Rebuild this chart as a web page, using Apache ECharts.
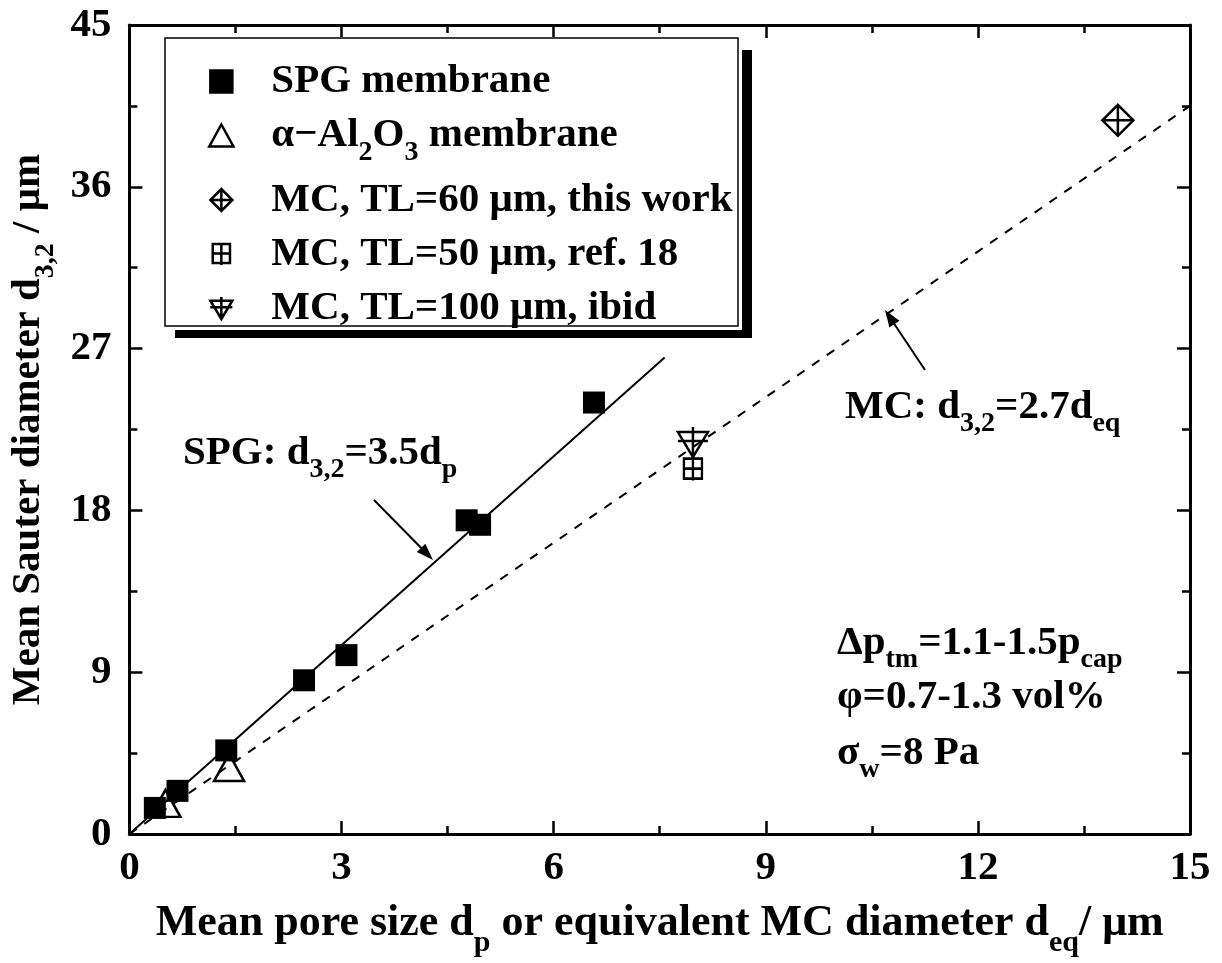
<!DOCTYPE html>
<html><head><meta charset="utf-8">
<script src="https://cdn.jsdelivr.net/npm/echarts@6/dist/echarts.min.js"></script>
<style>html,body{margin:0;padding:0;background:#fff}#c{width:1222px;height:963px}</style>
</head><body><div id="c"></div>
<script>
// ---- data ----
const spgX = [0.36, 0.68, 1.37, 2.47, 3.07, 4.77, 4.96, 6.57];
const spgY = [1.45, 2.4, 4.65, 8.55, 9.95, 17.45, 17.2, 24.0];
const alX = [0.51, 1.41];
const alY = [1.7, 3.7];
const mc60X = [13.98];
const mc60Y = [39.7];
const mc50X = [7.97];
const mc50Y = [20.3];
const mc100X = [7.97];
const mc100Y = [21.8];
const spgFitX = [0, 7.57];
const spgFitY = [0, 26.5];
const mcFitX = [0, 15];
const mcFitY = [0, 40.5];
const xTicks = [0, 3, 6, 9, 12, 15];
const yTicks = [0, 9, 18, 27, 36, 45];
const seriesNames = ['SPG membrane', 'Al2O3 membrane', 'MC60', 'MC50', 'MC100'];
const legendLabels = {
  'SPG membrane': '{n|SPG membrane}',
  'Al2O3 membrane': '{n|\u03b1\u2212Al}{s|2}{n|O}{s|3}{n| membrane}',
  'MC60': '{n|MC, TL=60 \u03bcm, this work}',
  'MC50': '{n|MC, TL=50 \u03bcm, ref. 18}',
  'MC100': '{n|MC, TL=100 \u03bcm, ibid}'
};

const FONT = 'Liberation Serif';
const R = {
  n: {fontFamily: FONT, fontWeight: 'bold', fontSize: 41, color: '#000', lineHeight: 44},
  s: {fontFamily: FONT, fontWeight: 'bold', fontSize: 28, color: '#000', lineHeight: 10, height: 10, verticalAlign: 'bottom'}
};
const RX = {
  n: {fontFamily: FONT, fontWeight: 'bold', fontSize: 44, color: '#000', lineHeight: 48},
  s: {fontFamily: FONT, fontWeight: 'bold', fontSize: 30, color: '#000', lineHeight: 10, height: 10, verticalAlign: 'bottom'}
};

const zip = (a, b) => a.map((v, i) => [v, b[i]]);

const P_SQUARE = 'path://M0,0L20,0L20,20L0,20Z';
const P_TRI = 'path://M11,0L22,20L0,20Z';
const P_DIAMOND = 'path://M10,0L20,10L10,20L0,10Z M0,10L20,10 M10,0L10,20';
const P_SQPLUS = 'path://M1,1L19,1L19,21L1,21Z M0,11L20,11 M10,0L10,23';
const P_TRIDOWN = 'path://M0,5L30,5L15,30Z M0,14L30,14 M15,0L15,30';
const legendIcons = [P_SQUARE, P_TRI, P_DIAMOND, P_SQPLUS, P_TRIDOWN];

const openStyle = {color: 'transparent', borderColor: '#000', borderWidth: 2.5, opacity: 1};

const chart = echarts.init(document.getElementById('c'), null, {renderer: 'canvas'});

const axisCommon = (pos, isX) => ({
  type: 'value',
  position: pos,
  min: 0,
  max: isX ? 15 : 45,
  interval: isX ? 3 : 9,
  axisLine: {show: true, onZero: false, lineStyle: {color: '#000', width: 3}},
  axisTick: {show: true, inside: true, length: 13, lineStyle: {color: '#000', width: 2.5}},
  minorTick: {show: true, splitNumber: 2, length: 8, lineStyle: {color: '#000', width: 2.5}},
  splitLine: {show: false},
  axisLabel: {show: false}
});

function arrow(tail, tip) {
  const dx = tip[0] - tail[0], dy = tip[1] - tail[1];
  const L = Math.hypot(dx, dy), ux = dx / L, uy = dy / L;
  const hl = 17, hw = 6;
  const bx = tip[0] - ux * hl, by = tip[1] - uy * hl;
  return [
    {type: 'line', z: 10, shape: {x1: tail[0], y1: tail[1], x2: bx + ux * 2, y2: by + uy * 2}, style: {stroke: '#000', lineWidth: 2}},
    {type: 'polygon', z: 10, shape: {points: [[tip[0], tip[1]], [bx - uy * hw, by + ux * hw], [bx + uy * hw, by - ux * hw]]}, style: {fill: '#000'}}
  ];
}

const xAx0 = Object.assign(axisCommon('bottom', true), {
  axisLabel: {show: true, margin: 14, fontFamily: FONT, fontWeight: 'bold', fontSize: 41, color: '#000'},
  name: '{n|Mean pore size d}{s|p}{n| or equivalent MC diameter d}{s|eq}{n|/ \u03bcm}',
  nameLocation: 'middle', nameGap: 66,
  nameTextStyle: {rich: RX}
});
const yAx0 = Object.assign(axisCommon('left', false), {
  axisLabel: {show: true, margin: 18, fontFamily: FONT, fontWeight: 'bold', fontSize: 41, color: '#000'},
  name: '{n|Mean Sauter diameter d}{s|3,2}{n| / \u03bcm}',
  nameLocation: 'middle', nameGap: 76, nameRotate: 90,
  nameTextStyle: {rich: R}
});

const option = {
  animation: false,
  backgroundColor: '#fff',
  grid: {left: 127, right: 32, top: 25, bottom: 127, containLabel: false},
  xAxis: [xAx0, axisCommon('top', true)],
  yAxis: [yAx0, axisCommon('right', false)],
  legend: {
    orient: 'vertical', left: 203, top: 56, z: 20,
    itemWidth: 90, itemHeight: 22, itemGap: 13,
    selectedMode: false,
    data: seriesNames.map((n, i) => ({name: n, icon: legendIcons[i]})),
    formatter: name => legendLabels[name],
    itemStyle: {borderWidth: 2.5, borderColor: '#000', opacity: 1},
    textStyle: {rich: R}
  },
  series: [
    {type: 'line', name: 'SPG fit', data: zip(spgFitX, spgFitY), showSymbol: false, symbol: 'none', z: 1,
      lineStyle: {color: '#000', width: 2}, silent: true},
    {type: 'line', name: 'MC fit', data: zip(mcFitX, mcFitY), showSymbol: false, symbol: 'none', z: 1,
      lineStyle: {color: '#000', width: 2, type: [9, 9]}, silent: true},
    {type: 'scatter', name: 'SPG membrane', data: zip(spgX, spgY), symbol: 'rect', symbolSize: 22, z: 3,
      itemStyle: {color: '#000', borderColor: '#000', borderWidth: 0, opacity: 1}},
    {type: 'scatter', name: 'Al2O3 membrane', data: zip(alX, alY), symbol: 'triangle', symbolSize: [30, 27], z: 3,
      itemStyle: openStyle},
    {type: 'scatter', name: 'MC60', data: zip(mc60X, mc60Y), symbol: P_DIAMOND, symbolSize: 31, z: 3,
      itemStyle: openStyle},
    {type: 'scatter', name: 'MC50', data: zip(mc50X, mc50Y), symbol: P_SQPLUS, symbolSize: [20, 23], z: 3,
      itemStyle: openStyle},
    {type: 'scatter', name: 'MC100', data: zip(mc100X, mc100Y), symbol: P_TRIDOWN, symbolSize: [30, 30], z: 3,
      itemStyle: openStyle}
  ],
  graphic: [
    {type: 'rect', z: 15, shape: {x: 175, y: 50, width: 577, height: 288}, style: {fill: '#000'}},
    {type: 'rect', z: 16, shape: {x: 163, y: 37, width: 579, height: 293}, style: {fill: '#fff'}},
    {type: 'rect', z: 17, shape: {x: 165, y: 38, width: 573, height: 288}, style: {fill: '#fff', stroke: '#000', lineWidth: 1.5}},
    {type: 'text', z: 10, x: 183, y: 431, style: {text: '{n|SPG: d}{s|3,2}{n|=3.5d}{s|p}', rich: R, verticalAlign: 'top'}},
    {type: 'text', z: 10, x: 845, y: 385, style: {text: '{n|MC: d}{s|3,2}{n|=2.7d}{s|eq}', rich: R, verticalAlign: 'top'}},
    {type: 'text', z: 10, x: 837, y: 621, style: {text: '{n|\u0394p}{s|tm}{n|=1.1-1.5p}{s|cap}', rich: R, verticalAlign: 'top'}},
    {type: 'text', z: 10, x: 837, y: 675, style: {text: '{n|\u03c6=0.7-1.3 vol%}', rich: R, verticalAlign: 'top'}},
    {type: 'text', z: 10, x: 837, y: 731, style: {text: '{n|\u03c3}{s|w}{n|=8 Pa}', rich: R, verticalAlign: 'top'}}
  ].concat(arrow([374, 500], [433, 560])).concat(arrow([925, 370], [885, 310]))
};
chart.setOption(option);
</script>
</body></html>
